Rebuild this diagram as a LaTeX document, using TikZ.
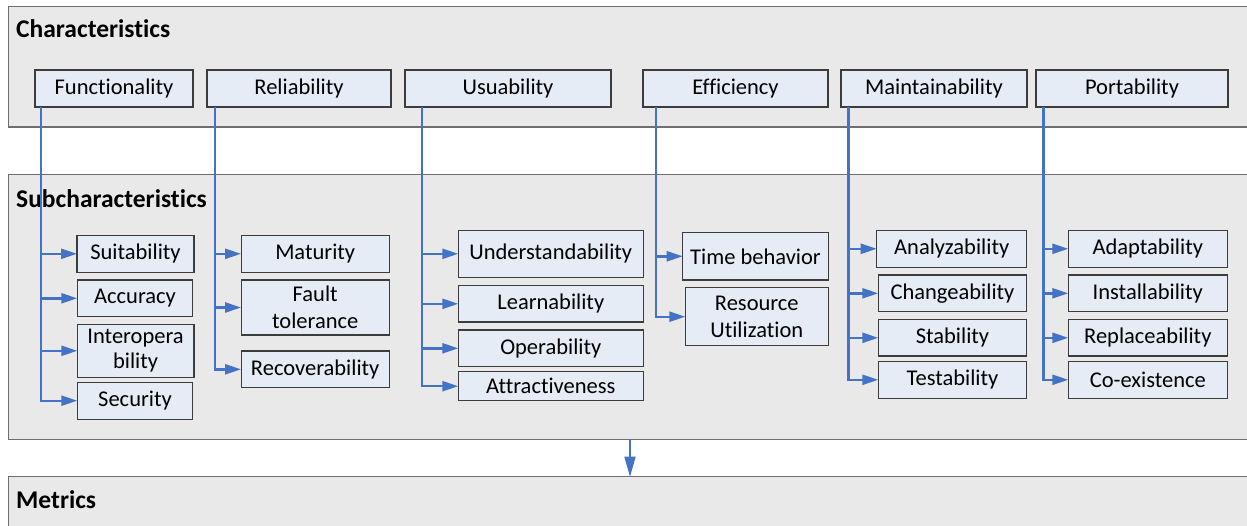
\documentclass[tikz,border=0pt]{standalone}
\usepackage{fontspec}
\setmainfont{Carlito}[Ligatures=NoCommon]
\usetikzlibrary{arrows.meta}
\definecolor{panelfill}{HTML}{E9E9E9}
\definecolor{panelline}{HTML}{6E6E6E}
\definecolor{boxfill}{HTML}{E6ECF6}
\definecolor{boxline}{HTML}{3C3C3C}
\definecolor{linkblue}{HTML}{4472C4}
\tikzset{
  panel/.style={draw=panelline, fill=panelfill, line width=1.3pt, inner sep=0pt, outer sep=0pt},
  title/.style={anchor=base west, inner sep=0pt, font=\fontsize{25.5}{30}\selectfont\bfseries},
  charbox/.style={draw=boxline, fill=boxfill, line width=1.1pt, inner sep=0pt, outer sep=0pt,
    minimum height=37pt, align=center, font=\fontsize{22.5}{27}\selectfont},
  subbox/.style={charbox},
  trunk/.style={draw=linkblue, line width=2.4pt},
  branch/.style={draw=linkblue, line width=2.4pt, -{Triangle[length=16pt,width=10pt]}},
  flow/.style={draw=linkblue, line width=1.5pt, -{Triangle[length=20pt,width=11pt]}}
}
\begin{document}
\begin{tikzpicture}[x=1pt, y=-1pt]
\useasboundingbox (0,0) rectangle (1247,525);
\clip (0,0) rectangle (1247,525);
\fill[white] (0,0) rectangle (1247,525);

% three layers
\node[panel, minimum width=1243.7pt, minimum height=120.3pt] (pchar) at (630.15,66.85) {};
\node[panel, minimum width=1243.7pt, minimum height=264.6pt] (psub) at (630.15,307) {};
\node[panel, minimum width=1243.7pt, minimum height=63.3pt] (pmet) at (630.15,508.35) {};

\node[title] (tchar) at (16,37) {Characteristics};
\node[title] (tsub) at (16,207) {Subcharacteristics};
\node[title] (tmet) at (16,508) {Metrics};

% characteristics
\node[charbox, minimum width=158pt] (fu) at (114,88.5) {Functionality};
\node[charbox, minimum width=184pt] (re) at (299,88.5) {Reliability};
\node[charbox, minimum width=206pt] (us) at (508,88.5) {Usuability};
\node[charbox, minimum width=185pt] (ef) at (735.5,88.5) {Efficiency};
\node[charbox, minimum width=186pt] (ma) at (934,88.5) {Maintainability};
\node[charbox, minimum width=192pt] (po) at (1132,88.5) {Portability};

% functionality
\node[subbox, minimum width=117pt] (su) at (135.5,253.8) {Suitability};
\node[subbox, minimum width=115.4pt, minimum height=36.7pt] (ac) at (135,298.3) {Accuracy};
\node[subbox, minimum width=116.7pt, minimum height=53pt] (io) at (135.6,350.8) {Interopera\\[-2pt]bility};
\node[subbox, minimum width=115.4pt, minimum height=36.7pt] (se) at (135,400.7) {Security};
% reliability
\node[subbox, minimum width=148.3pt] (mt) at (315.2,253.8) {Maturity};
\node[subbox, minimum width=148.3pt, minimum height=55pt] (ft) at (315.2,307.5) {Fault\\tolerance};
\node[subbox, minimum width=148.3pt, minimum height=36.7pt] (rc) at (315.2,369.3) {Recoverability};
% usability
\node[subbox, minimum width=185pt, minimum height=47pt] (un) at (550.8,253.8) {Understandability};
\node[subbox, minimum width=185pt, minimum height=36.3pt] (le) at (550.8,303.8) {Learnability};
\node[subbox, minimum width=185pt, minimum height=36.7pt] (op) at (550.8,348.3) {Operability};
\node[subbox, minimum width=185pt, minimum height=29pt] (at) at (550.8,386.2) {Attractiveness};
% efficiency
\node[subbox, minimum width=145.6pt, minimum height=47.3pt] (tb) at (755.5,256.3) {Time behavior};
\node[subbox, minimum width=143pt, minimum height=58pt] (ru) at (756.8,316.7) {Resource\\Utilization};
% maintainability
\node[subbox, minimum width=150pt] (an) at (951.7,248.8) {Analyzability};
\node[subbox, minimum width=148.4pt, minimum height=36.7pt] (ch) at (952.5,293.3) {Changeability};
\node[subbox, minimum width=148.4pt, minimum height=36.3pt] (st) at (952.5,337.8) {Stability};
\node[subbox, minimum width=148.4pt] (te) at (952.5,379.8) {Testability};
% portability
\node[subbox, minimum width=159pt] (ad) at (1147.8,248.8) {Adaptability};
\node[subbox, minimum width=159pt, minimum height=36.7pt] (in) at (1147.8,293.3) {Installability};
\node[subbox, minimum width=159pt, minimum height=36.3pt] (rp) at (1147.8,337.8) {Replaceability};
\node[subbox, minimum width=159pt] (ce) at (1147.8,379.8) {Co-existence};

% trunk positions
\coordinate (tfu) at (41,0);
\coordinate (tre) at (215,0);
\coordinate (tus) at (421.7,0);
\coordinate (tef) at (655.7,0);
\coordinate (tma) at (848.3,0);
\coordinate (tpo) at (1043.3,0);
\coordinate (tmet) at (630,0);

% functionality links
\draw[branch] (tfu |- fu.south) -- (tfu |- se.west) -- (se.west);
\foreach \b in {su,ac,io} \draw[branch] (tfu |- \b.west) -- (\b.west);
% reliability links
\draw[branch] (tre |- re.south) -- (tre |- rc.west) -- (rc.west);
\foreach \b in {mt,ft} \draw[branch] (tre |- \b.west) -- (\b.west);
% usability links
\draw[branch] (tus |- us.south) -- (tus |- at.west) -- (at.west);
\foreach \b in {un,le,op} \draw[branch] (tus |- \b.west) -- (\b.west);
% efficiency links
\draw[branch] (tef |- ef.south) -- (tef |- ru.west) -- (ru.west);
\draw[branch] (tef |- tb.west) -- (tb.west);
% maintainability links
\draw[branch] (tma |- ma.south) -- (tma |- te.west) -- (te.west);
\foreach \b in {an,ch,st} \draw[branch] (tma |- \b.west) -- (\b.west);
% portability links
\draw[branch] (tpo |- po.south) -- (tpo |- ce.west) -- (ce.west);
\foreach \b in {ad,in,rp} \draw[branch] (tpo |- \b.west) -- (\b.west);

% subcharacteristics feed the metrics layer
\draw[flow] (tmet |- psub.south) -- (tmet |- pmet.north);
\end{tikzpicture}
\end{document}
